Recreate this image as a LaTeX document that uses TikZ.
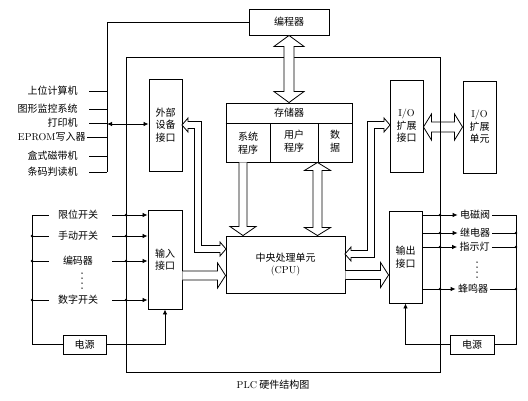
\documentclass[tikz,border=0pt]{standalone}
\usepackage{fontspec}
\newfontfamily\cjk{Noto Sans CJK SC}
\usetikzlibrary{calc,arrows.meta}
\newcommand\vdbl[5]{\draw[blk] (#1) -- ($(#1)+(-#4,#5)$) -- ($(#1)+(-#3,#5)$) -- ($(#2)+(-#3,-#5)$) -- ($(#2)+(-#4,-#5)$) -- (#2) -- ($(#2)+(#4,-#5)$) -- ($(#2)+(#3,-#5)$) -- ($(#1)+(#3,#5)$) -- ($(#1)+(#4,#5)$) -- cycle;}
\newcommand\vsgl[5]{\draw[blk] ($(#1)+(-#3,0)$) -- ($(#2)+(-#3,-#5)$) -- ($(#2)+(-#4,-#5)$) -- (#2) -- ($(#2)+(#4,-#5)$) -- ($(#2)+(#3,-#5)$) -- ($(#1)+(#3,0)$);}
\newcommand\hsgl[5]{\draw[blk] ($(#1)+(0,-#3)$) -- ($(#2)+(-#5,-#3)$) -- ($(#2)+(-#5,-#4)$) -- (#2) -- ($(#2)+(-#5,#4)$) -- ($(#2)+(-#5,#3)$) -- ($(#1)+(0,#3)$);}
\newcommand\hdbl[6][]{\draw[blk,#1] (#2) -- ($(#2)+(#6,-#5)$) -- ($(#2)+(#6,-#4)$) -- ($(#3)+(-#6,-#4)$) -- ($(#3)+(-#6,-#5)$) -- (#3) -- ($(#3)+(-#6,#5)$) -- ($(#3)+(-#6,#4)$) -- ($(#2)+(#6,#4)$) -- ($(#2)+(#6,#5)$) -- cycle;}
\begin{document}
\begin{tikzpicture}[x=1pt,y=-1pt,line width=0.8pt,
  every node/.style={font=\fontsize{10}{12.5}\selectfont\cjk, inner sep=0pt},
  bx/.style={draw, line width=0.9pt, align=center},
  blk/.style={draw, line width=0.8pt, fill=white, line join=miter},
  sarr/.style={-{Latex[length=5pt,width=4.5pt]}},
  dot/.style={circle, fill, inner sep=0pt, minimum size=2.6pt}]
\useasboundingbox (0,0) rectangle (528,400);

% frame
\coordinate (fA) at (126,57);
\coordinate (fB) at (440,372);
\draw (fA) rectangle (fB);

% boxes
\node[bx, minimum width=80pt, minimum height=26pt] (prog) at (289,22) {编程器};
\node[bx, minimum width=33pt, minimum height=92pt] (ext) at (165.5,125) {外部\\设备\\接口};
\node[bx, minimum width=126pt, minimum height=59pt] (mem) at (289,132.5) {};
\node[bx, minimum width=119pt, minimum height=57pt] (cpu) at (285.5,264.5) {中央处理单元\\{\rmfamily (CPU)}};
\node[bx, minimum width=33pt, minimum height=92pt] (io) at (406.5,126) {{\rmfamily I/O}\\扩展\\接口};
\node[bx, minimum width=33pt, minimum height=92pt] (iou) at (479.5,127) {{\rmfamily I/O}\\扩展\\单元};
\node[bx, minimum width=34pt, minimum height=99pt] (inp) at (165,259.5) {输入\\接口};
\node[bx, minimum width=33pt, minimum height=92pt] (outp) at (405.5,257) {输出\\接口};
\node[bx, minimum width=43pt, minimum height=19pt] (pwl) at (84.5,344.5) {电源};
\node[bx, minimum width=44pt, minimum height=19pt] (pwr) at (472,344.5) {电源};

% memory internals
\coordinate (mrow) at (0,123);
\draw (mem.west |- mrow) -- (mem.east |- mrow);
\coordinate (mv1) at (270,123);
\coordinate (mv2) at (318,123);
\draw (mv1) -- (mv1 |- mem.south);
\draw (mv2) -- (mv2 |- mem.south);
\node (mt) at (289,113) {存储器};
\node[align=center] (m1) at (248,143) {系统\\程序};
\node[align=center] (m2) at (294,141) {用户\\程序};
\node[align=center] (m3) at (335,141) {数\\据};

% block arrows
\vdbl{prog.south}{mem.north}{5}{15}{11}
\coordinate (sT) at ($(mem.south)+(-46,0)$);
\coordinate (sB) at (sT |- cpu.north);
\vsgl{sT}{sB}{4}{13}{9}
\coordinate (uT) at ($(mem.south)+(28.5,0)$);
\coordinate (uB) at (uT |- cpu.north);
\vdbl{uT}{uB}{4.5}{13}{8}
\coordinate (iL) at ($(inp.east)+(0,16)$);
\coordinate (iR) at (iL -| cpu.west);
\hsgl{iL}{iR}{4.5}{12.5}{8}
\coordinate (oL) at ($(cpu.east)+(0,10.5)$);
\coordinate (oR) at (oL -| outp.west);
\hsgl{oL}{oR}{4.5}{12.5}{8}
\coordinate (xL) at ($(io.east)+(0,1)$);
\coordinate (xR) at (xL -| iou.west);
\hdbl[fill=none]{xL}{xR}{5}{13}{8}

% elbow hollow arrows
\draw[blk] (182,125) -- (188,118) -- (188,121.5) -- (201.5,121.5) -- (201.5,245.5) -- (220,245.5) -- (220,242) -- (226,249) -- (220,256) -- (220,252.5) -- (194.5,252.5) -- (194.5,128.5) -- (188,128.5) -- (188,132) -- cycle;
\draw[blk] (390,125) -- (384,118) -- (384,121.5) -- (367.5,121.5) -- (367.5,250.5) -- (351,250.5) -- (351,247) -- (345,254) -- (351,261) -- (351,257.5) -- (374.5,257.5) -- (374.5,128.5) -- (384,128.5) -- (384,132) -- cycle;

% external devices
\coordinate (busT) at (107,23);
\coordinate (busB) at (107,172);
\draw (prog.west) -- (busT |- prog.west) -- (busB);
\node[anchor=east] (d1) at (78,91) {上位计算机};
\node[anchor=east] (d2) at (78,109) {图形监控系统};
\node[anchor=east] (d3) at (78,123) {打印机};
\node[anchor=east] (d4) at (86,137) {{\rmfamily EPROM}写入器};
\node[anchor=east] (d5) at (78,156) {盒式磁带机};
\node[anchor=east] (d6) at (78,172) {条码判读机};
\foreach \d in {d1,d2,d3,d5,d6}{\draw ($(\d.east)+(11,0)$) -- (\d -| busT);}
\draw ($(d4.east)+(1,0)$) -- (d4 -| busT);
\coordinate (pr) at (107,124);
\draw[{Latex[length=5pt,width=4.5pt]}-{Latex[length=5pt,width=4.5pt]}] (pr) -- (pr -| ext.west);

% input switches
\coordinate (lbusT) at (32,215);
\node (sw1) at (78,215) {限位开关};
\node (sw2) at (78,236) {手动开关};
\node (sw3) at (78,261) {编码器};
\node (sw4) at (78,300) {数字开关};
\foreach \s in {sw1,sw2,sw3,sw4}{
  \draw (\s -| lbusT) -- ($(\s.center)+(-29,0)$);
  \draw[sarr] ($(\s.center)+(34,0)$) -- (\s -| inp.west);
  \node[dot] at (\s -| fA) {};}
\foreach \s in {sw2,sw3,sw4}{\node[dot] at (\s -| lbusT) {};}
\draw (lbusT) -- (lbusT |- pwl.west) -- (pwl.west);
\draw[sarr] (pwl.east) -- (pwl.east -| inp.south) -- (inp.south);
\foreach \yy in {273,278,283,288}{\fill (82,\yy) circle (0.75pt);}

% outputs
\coordinate (rbusT) at (516,215);
\node (o1) at (475,215) {电磁阀};
\node (o2) at (475,233) {继电器};
\node (o3) at (474.5,247) {指示灯};
\node (o4) at (473,289) {蜂鸣器};
\foreach \o in {o1,o2,o3,o4}{
  \draw[sarr] (\o -| outp.east) -- ($(\o.west)+(-2,0)$);
  \draw ($(\o.east)+(2,0)$) -- (\o -| rbusT);
  \node[dot] at (\o -| fB) {};}
\foreach \o in {o2,o3,o4}{\node[dot] at (\o -| rbusT) {};}
\draw (rbusT) -- (rbusT |- pwr.east) -- (pwr.east);
\draw[sarr] (pwr.west) -- (pwr.west -| outp.south) -- (outp.south);
\foreach \yy in {262,267,272,277}{\fill (477,\yy) circle (0.75pt);}

% caption
\node (cap) at (273,385) {{\rmfamily PLC} 硬件结构图};
\end{tikzpicture}
\end{document}
